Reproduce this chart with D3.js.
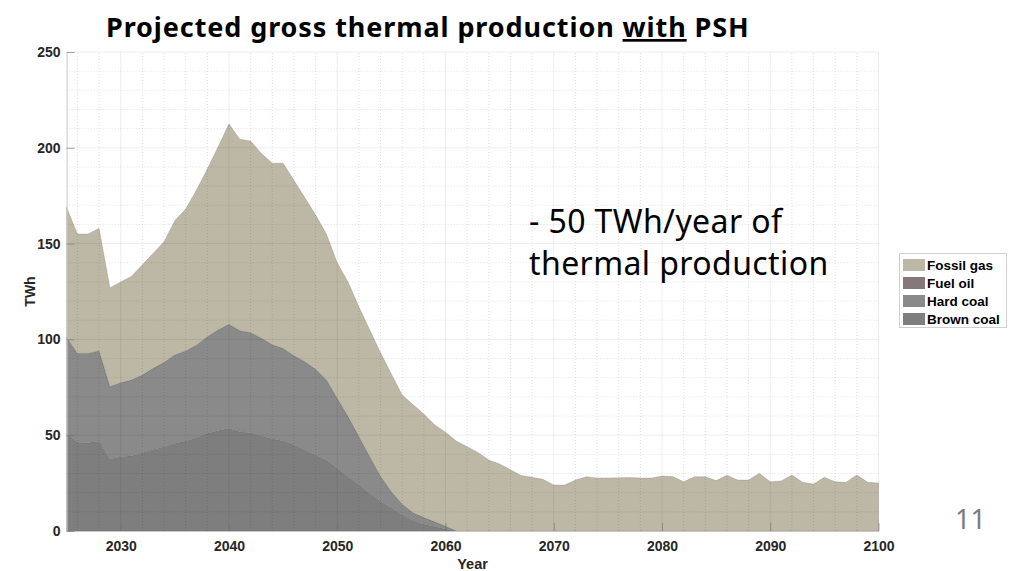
<!DOCTYPE html>
<html>
<head>
<meta charset="utf-8">
<script src="https://cdn.jsdelivr.net/npm/d3@7"></script>
<style>
  body { margin: 0; background: #fff; }
  svg { display: block; }
</style>
</head>
<body>
<svg id="chart"></svg>
<script>
// years 2025..2100, values in TWh
var years = d3.range(2025, 2101);

var brownCoal = [50.6, 46.3, 46, 47, 37.6, 38.8, 39.3, 40.9, 42.6, 44,
  45.8, 47, 48.7, 51, 52.4, 53.6, 51.8, 51.3, 49.6, 48.2,
  47.1, 45.2, 42.3, 39.7, 37, 32.7, 28.3, 24, 19.7, 15.5,
  12, 8.5, 5.5, 3.5, 2.3, 1, 0, 0, 0, 0,
  0, 0, 0, 0, 0, 0, 0, 0, 0, 0,
  0, 0, 0, 0, 0, 0, 0, 0, 0, 0,
  0, 0, 0, 0, 0, 0, 0, 0, 0, 0,
  0, 0, 0, 0, 0, 0];

var hardCoal = [50.4, 46.4, 46.7, 47, 37.7, 38.6, 39.5, 40.5, 42.3, 43.9,
  46.1, 47, 48.3, 50.4, 52.5, 54.3, 52.7, 52.2, 51, 49,
  48.2, 46.3, 46.1, 44.7, 41.8, 36.5, 31.4, 25.2, 19.1, 13,
  8.5, 5.5, 4, 3.5, 2.5, 1.5, 0, 0, 0, 0,
  0, 0, 0, 0, 0, 0, 0, 0, 0, 0,
  0, 0, 0, 0, 0, 0, 0, 0, 0, 0,
  0, 0, 0, 0, 0, 0, 0, 0, 0, 0,
  0, 0, 0, 0, 0, 0];

var fuelOil = [0, 0, 0, 0, 0, 0, 0, 0, 0, 0,
  0, 0, 0, 0, 0, 0, 0, 0, 0, 0,
  0, 0, 0, 0, 0, 0, 0, 0, 0, 0,
  0, 0, 0, 0, 0, 0, 0, 0, 0, 0,
  0, 0, 0, 0, 0, 0, 0, 0, 0, 0,
  0, 0, 0, 0, 0, 0, 0, 0, 0, 0,
  0, 0, 0, 0, 0, 0, 0, 0, 0, 0,
  0, 0, 0, 0, 0, 0];

var fossilGas = [68, 62.3, 62.3, 64, 51.7, 52.6, 54.2, 57.6, 60.1, 63.1,
  70.1, 74, 81, 87.6, 95.6, 104.6, 100, 100, 96.4, 94.8,
  96.7, 91.5, 85.6, 80.6, 76.2, 70.8, 70.3, 67.8, 66.2, 64.5,
  61.5, 57, 56.5, 54, 50.7, 49, 47, 44, 41, 37,
  35, 32, 29, 28, 27, 24, 24, 26.6, 28.3, 27.7,
  27.7, 27.8, 27.9, 27.7, 27.6, 28.7, 28.4, 25.7, 28.3, 28.3,
  26.3, 29.1, 26.6, 26.6, 30.1, 25.7, 26.1, 29.2, 25.4, 24.5,
  28, 25.7, 25.4, 29.2, 25.4, 25];

var seriesNames = ["Brown coal", "Hard coal", "Fuel oil", "Fossil gas"];
var legendNames = ["Fossil gas", "Fuel oil", "Hard coal", "Brown coal"];
var yTicks = [0, 50, 100, 150, 200, 250];
var xTicks = [2030, 2040, 2050, 2060, 2070, 2080, 2090, 2100];

var width = 1014, height = 571;
var colors = {
  "Fossil gas": "#bdb8a5",
  "Fuel oil": "#857878",
  "Hard coal": "#8a8a8a",
  "Brown coal": "#7e7e7e"
};

var svg = d3.select("#chart").attr("width", width).attr("height", height);

var x = d3.scaleLinear().domain([2025, 2100]).range([66.6, 878.5]);
var y = d3.scaleLinear().domain([0, 250]).range([531, 52]);

// build rows for the stack
var table = years.map(function(yr, i) {
  return {
    year: yr,
    "Brown coal": brownCoal[i],
    "Hard coal": hardCoal[i],
    "Fuel oil": fuelOil[i],
    "Fossil gas": fossilGas[i]
  };
});

var stack = d3.stack().keys(seriesNames);
var layers = stack(table);

var area = d3.area()
  .x(function(d) { return x(d.data.year); })
  .y0(function(d) { return y(d[0]); })
  .y1(function(d) { return y(d[1]); });

var plot = svg.append("g");

// areas
plot.selectAll("path.layer")
  .data(layers)
  .enter().append("path")
  .attr("class", "layer")
  .attr("d", area)
  .style("fill", function(d) { return colors[d.key]; })
  .style("stroke", "#5a5a5a")
  .style("stroke-width", 0.4)
  .style("stroke-opacity", 0.5);

// grid on top, faint
var grid = svg.append("g");
grid.selectAll("line.minx")
  .data(d3.range(2026, 2101, 2).filter(function(v) { return v % 10 !== 0; }))
  .enter().append("line")
  .attr("x1", function(d) { return x(d); }).attr("x2", function(d) { return x(d); })
  .attr("y1", y(0)).attr("y2", y(250))
  .style("stroke", "rgba(0,0,0,0.13)")
  .style("stroke-dasharray", "1,2");
grid.selectAll("line.miny")
  .data(d3.range(10, 251, 10).filter(function(v) { return v % 50 !== 0; }))
  .enter().append("line")
  .attr("x1", x(2025)).attr("x2", x(2100))
  .attr("y1", function(d) { return y(d); }).attr("y2", function(d) { return y(d); })
  .style("stroke", "rgba(0,0,0,0.13)")
  .style("stroke-dasharray", "1,2");
grid.selectAll("line.majx")
  .data(xTicks)
  .enter().append("line")
  .attr("x1", function(d) { return x(d); }).attr("x2", function(d) { return x(d); })
  .attr("y1", y(0)).attr("y2", y(250))
  .style("stroke", "rgba(0,0,0,0.07)");
grid.selectAll("line.majy")
  .data(yTicks.slice(1))
  .enter().append("line")
  .attr("x1", x(2025)).attr("x2", x(2100))
  .attr("y1", function(d) { return y(d); }).attr("y2", function(d) { return y(d); })
  .style("stroke", "rgba(0,0,0,0.07)");

// axes, MATLAB look: ticks inside, bold labels
var axisFont = "'Liberation Sans', Arial, Helvetica, sans-serif";

var xAxis = svg.append("g")
  .attr("transform", "translate(0," + y(0) + ")")
  .call(d3.axisBottom(x).tickValues(xTicks).tickFormat(d3.format("d"))
    .tickSizeInner(-8).tickSizeOuter(0).tickPadding(10));
var yAxis = svg.append("g")
  .attr("transform", "translate(" + x(2025) + ",0)")
  .call(d3.axisLeft(y).tickValues(yTicks).tickSizeInner(-8).tickSizeOuter(0).tickPadding(6));

[xAxis, yAxis].forEach(function(ax) {
  ax.select(".domain").style("stroke", "#c8c8c8");
  ax.selectAll(".tick line").style("stroke", "#6f6f6f").style("stroke-opacity", 0.6);
  ax.selectAll(".tick text")
    .style("font-family", axisFont)
    .style("font-size", "14px")
    .style("font-weight", "bold")
    .style("fill", "#262626");
});

svg.append("text")
  .attr("x", (x(2025) + x(2100)) / 2).attr("y", 569)
  .attr("text-anchor", "middle")
  .style("font-family", axisFont).style("font-size", "14.5px").style("font-weight", "bold")
  .style("fill", "#262626")
  .text("Year");

svg.append("text")
  .attr("transform", "translate(35," + ((y(0) + y(250)) / 2) + ") rotate(-90)")
  .attr("text-anchor", "middle")
  .style("font-family", axisFont).style("font-size", "14px").style("font-weight", "bold")
  .style("fill", "#262626")
  .text("TWh");

// title
var title = svg.append("text")
  .attr("x", 106).attr("y", 37)
  .style("font-family", "'Noto Sans', 'Open Sans', sans-serif")
  .style("font-size", "27px").style("font-weight", "bold")
  .style("letter-spacing", "0.9px")
  .style("fill", "#000");
title.append("tspan").text("Projected gross thermal production ");
title.append("tspan").style("text-decoration", "underline").text("with");
title.append("tspan").text(" PSH");

// annotation
var note = svg.append("text")
  .style("font-family", "'Noto Sans', 'Open Sans', sans-serif")
  .style("font-size", "32px")
  .style("letter-spacing", "0.4px")
  .style("fill", "#000");
note.append("tspan").attr("x", 529).attr("y", 233).text("- 50 TWh/year of");
note.append("tspan").attr("x", 529).attr("y", 275).text("thermal production");

// page number
svg.append("text")
  .attr("x", 986).attr("y", 529).attr("text-anchor", "end")
  .style("font-family", "'Noto Sans', 'Open Sans', sans-serif")
  .style("font-size", "27px")
  .style("fill", "#7a7a7a")
  .text("11");

// legend
var legend = svg.append("g");
legend.append("rect")
  .attr("x", 899.5).attr("y", 253.5).attr("width", 107).attr("height", 74)
  .style("fill", "#fff").style("stroke", "#d0d0d0");
var items = legend.selectAll("g.item")
  .data(legendNames)
  .enter().append("g")
  .attr("transform", function(d, i) { return "translate(903," + (265 + i * 18) + ")"; });
items.append("rect")
  .attr("x", 0).attr("y", -6).attr("width", 22).attr("height", 12)
  .style("fill", function(d) { return colors[d]; });
items.append("text")
  .attr("x", 24).attr("y", 5)
  .style("font-family", axisFont).style("font-size", "13.5px").style("font-weight", "bold")
  .style("fill", "#000")
  .text(function(d) { return d; });
</script>
</body>
</html>
